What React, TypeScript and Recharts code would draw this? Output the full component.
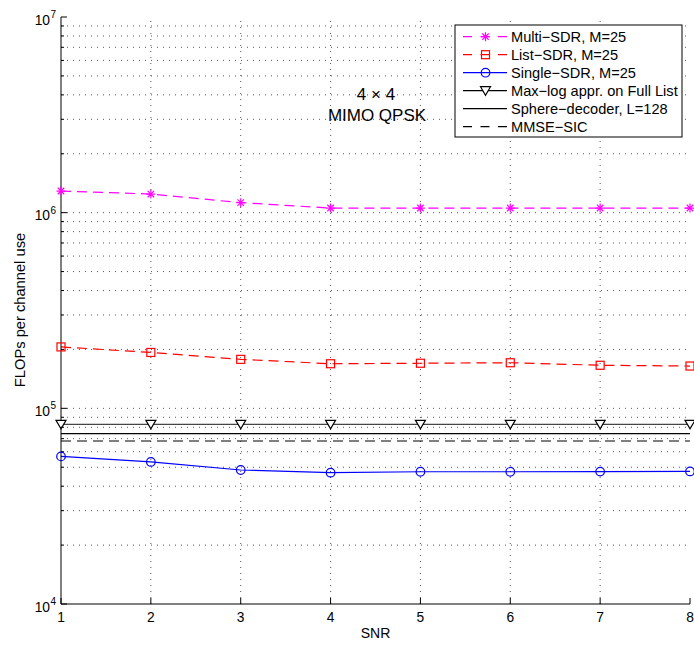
import React from 'react';
import { LineChart, Line, XAxis, YAxis, ReferenceLine } from 'recharts';

// ---- data ----
const snr = [1, 2, 3, 4, 5, 6, 7, 8];
const multiSDR = [1.29e6, 1.245e6, 1.125e6, 1.056e6, 1.056e6, 1.056e6, 1.056e6, 1.056e6];
const listSDR = [2.06e5, 1.93e5, 1.78e5, 1.69e5, 1.7e5, 1.71e5, 1.66e5, 1.645e5];
const singleSDR = [5.68e4, 5.32e4, 4.84e4, 4.69e4, 4.74e4, 4.74e4, 4.75e4, 4.76e4];
const maxLog = [8.28e4, 8.28e4, 8.28e4, 8.28e4, 8.28e4, 8.28e4, 8.28e4, 8.28e4];
const sphere = [7.43e4, 7.43e4, 7.43e4, 7.43e4, 7.43e4, 7.43e4, 7.43e4, 7.43e4];
const mmse = [6.81e4, 6.81e4, 6.81e4, 6.81e4, 6.81e4, 6.81e4, 6.81e4, 6.81e4];

const xTicks = [1, 2, 3, 4, 5, 6, 7, 8];
const yMajorTicks = [1e4, 1e5, 1e6, 1e7];
const yMinorMultipliers = [2, 3, 4, 5, 6, 7, 8, 9];
const yAllTicks: number[] = [];
yMajorTicks.forEach((m, i) => {
  yAllTicks.push(m);
  if (i < yMajorTicks.length - 1) yMinorMultipliers.forEach((k) => yAllTicks.push(m * k));
});
const yGrid = yAllTicks.filter((v) => v > 1e4 && v < 1e7);
const xGrid = xTicks.filter((v) => v > 1 && v < 8);

const legendItems = [
  { label: 'Multi\u2212SDR, M=25', color: '#ff00ff', dash: true, marker: 'star' },
  { label: 'List\u2212SDR, M=25', color: '#ff0000', dash: true, marker: 'square' },
  { label: 'Single\u2212SDR, M=25', color: '#0000ff', dash: false, marker: 'circle' },
  { label: 'Max\u2212log appr. on Full List', color: '#000000', dash: false, marker: 'tri' },
  { label: 'Sphere\u2212decoder, L=128', color: '#000000', dash: false, marker: 'none' },
  { label: 'MMSE\u2212SIC', color: '#000000', dash: true, marker: 'none' },
];

const data = snr.map((s, i) => ({
  snr: s,
  multi: multiSDR[i],
  list: listSDR[i],
  single: singleSDR[i],
  maxlog: maxLog[i],
  sphere: sphere[i],
  mmse: mmse[i],
}));

const FONT = '"Liberation Sans", Arial, Helvetica, sans-serif';
const GRID_STROKE = '#555';
const GRID_DASH = '1 5';
const DASH = '10 6';

function Marker({ type, cx, cy, color }: { type: string; cx: number; cy: number; color: string }) {
  if (type === 'star') {
    const r = 4.5;
    const d = r * 0.72;
    return (
      <g stroke={color} strokeWidth={1.2}>
        <line x1={cx - r} y1={cy} x2={cx + r} y2={cy} />
        <line x1={cx} y1={cy - r} x2={cx} y2={cy + r} />
        <line x1={cx - d} y1={cy - d} x2={cx + d} y2={cy + d} />
        <line x1={cx - d} y1={cy + d} x2={cx + d} y2={cy - d} />
      </g>
    );
  }
  if (type === 'square') {
    return <rect x={cx - 4} y={cy - 4} width={8} height={8} fill="none" stroke={color} strokeWidth={1.2} />;
  }
  if (type === 'circle') {
    return <circle cx={cx} cy={cy} r={4.3} fill="none" stroke={color} strokeWidth={1.2} />;
  }
  if (type === 'tri') {
    return (
      <path
        d={`M${cx - 5},${cy - 4} L${cx + 5},${cy - 4} L${cx},${cy + 4.5} Z`}
        fill="#fff"
        stroke={color}
        strokeWidth={1.2}
      />
    );
  }
  return null;
}

const makeDot = (type: string, color: string) => (props: any) => {
  const { cx, cy, index } = props;
  if (cx == null || cy == null) return <g key={index} />;
  return (
    <g key={index}>
      <Marker type={type} cx={cx} cy={cy} color={color} />
    </g>
  );
};

const TICK_MARGIN = 10;

const LeftTick = (props: any) => {
  const { x, y, payload } = props;
  const v = payload.value as number;
  const edge = x + TICK_MARGIN;
  const lg = Math.log10(v);
  const exp = Math.round(lg);
  const major = Math.abs(lg - exp) < 1e-9;
  return (
    <g>
      <line x1={edge} x2={edge + (major ? 6 : 3)} y1={y} y2={y} stroke="#000" strokeWidth={1} />
      {major && (
        <text x={edge - 11} y={y + 7.5} textAnchor="end" fontSize={13.8} fontFamily={FONT} fill="#000">
          10
        </text>
      )}
      {major && (
        <text x={edge - 10.5} y={y + 1} textAnchor="start" fontSize={10} fontFamily={FONT} fill="#000">
          {exp}
        </text>
      )}
    </g>
  );
};

const RightTick = (props: any) => {
  const { x, y, payload } = props;
  const v = payload.value as number;
  const lg = Math.log10(v);
  const major = Math.abs(lg - Math.round(lg)) < 1e-9;
  return <line x1={x} x2={x - (major ? 6 : 3)} y1={y} y2={y} stroke="#000" strokeWidth={1} />;
};

const BottomTick = (props: any) => {
  const { x, y, payload } = props;
  return (
    <g>
      <line x1={x} x2={x} y1={y} y2={y - 6} stroke="#000" strokeWidth={1} />
      <text x={x} y={y + 18} textAnchor="middle" fontSize={13.8} fontFamily={FONT} fill="#000">
        {payload.value}
      </text>
    </g>
  );
};

const TopTick = (props: any) => {
  const { x, y } = props;
  return <line x1={x} x2={x} y1={y} y2={y + 6} stroke="#000" strokeWidth={1} />;
};

function LegendBox() {
  const left = 455;
  const top = 25;
  const rowY0 = 36.7;
  const rowGap = 18;
  return (
    <svg width={694} height={646} style={{ position: 'absolute', left: 0, top: 0, pointerEvents: 'none' }}>
      <rect x={left} y={top} width={227} height={112} fill="#fff" stroke="#000" strokeWidth={1} />
      {legendItems.map((it, i) => {
        const y = rowY0 + i * rowGap;
        return (
          <g key={it.label}>
            <line
              x1={463}
              x2={507}
              y1={y}
              y2={y}
              stroke={it.color}
              strokeWidth={1.2}
              strokeDasharray={it.dash ? '9 8.5' : undefined}
            />
            <Marker type={it.marker} cx={485.5} cy={y} color={it.color} />
            <text x={511} y={y + 5.2} fontSize={14.6} fontFamily={FONT} fill="#000">
              {it.label}
            </text>
          </g>
        );
      })}
      <text x={376} y={100} textAnchor="middle" fontSize={17} fontFamily={FONT} fill="#000">
        4 {'\u00d7'} 4
      </text>
      <text x={377} y={121} textAnchor="middle" fontSize={17} fontFamily={FONT} fill="#000">
        MIMO QPSK
      </text>
      <text x={375.5} y={638} textAnchor="middle" fontSize={14} fontFamily={FONT} fill="#000">
        SNR
      </text>
      <text
        x={0}
        y={0}
        transform="translate(25,310) rotate(-90)"
        textAnchor="middle"
        fontSize={14.7}
        fontFamily={FONT}
        fill="#000"
      >
        FLOPs per channel use
      </text>
    </svg>
  );
}

export default function App() {
  return (
    <div style={{ position: 'absolute', left: 0, top: 0, width: 694, height: 646, background: '#fff' }}>
      <LineChart width={694} height={646} data={data} margin={{ top: 17, right: 4, bottom: 0, left: 0 }}>
        <XAxis
          dataKey="snr"
          type="number"
          domain={[1, 8]}
          ticks={xTicks}
          interval={0}
          height={42}
          tickSize={0}
          tickMargin={0}
          tickLine={false}
          axisLine={{ stroke: '#000', strokeWidth: 1 }}
          tick={BottomTick}
        />
        <XAxis
          xAxisId="top"
          orientation="top"
          dataKey="snr"
          type="number"
          domain={[1, 8]}
          ticks={xTicks}
          interval={0}
          height={0}
          tickSize={0}
          tickMargin={0}
          tickLine={false}
          axisLine={{ stroke: '#000', strokeWidth: 1 }}
          tick={TopTick}
        />
        <YAxis
          type="number"
          scale="log"
          domain={[1e4, 1e7]}
          ticks={yAllTicks}
          interval={0}
          allowDataOverflow
          width={61}
          tickSize={0}
          tickMargin={TICK_MARGIN}
          tickLine={false}
          axisLine={{ stroke: '#000', strokeWidth: 1 }}
          tick={LeftTick}
        />
        <YAxis
          yAxisId="right"
          orientation="right"
          type="number"
          scale="log"
          domain={[1e4, 1e7]}
          ticks={yAllTicks}
          interval={0}
          allowDataOverflow
          width={0}
          tickSize={0}
          tickMargin={0}
          tickLine={false}
          axisLine={{ stroke: '#000', strokeWidth: 1 }}
          tick={RightTick}
        />
        {yGrid.map((v) => (
          <ReferenceLine key={'h' + v} y={v} stroke={GRID_STROKE} strokeDasharray={GRID_DASH} strokeWidth={1} />
        ))}
        {xGrid.map((v) => (
          <ReferenceLine key={'v' + v} x={v} stroke={GRID_STROKE} strokeDasharray={GRID_DASH} strokeWidth={1} />
        ))}
        <Line
          dataKey="mmse"
          stroke="#000"
          strokeWidth={1.2}
          strokeDasharray={DASH}
          dot={false}
          isAnimationActive={false}
        />
        <Line dataKey="sphere" stroke="#000" strokeWidth={1.2} dot={false} isAnimationActive={false} />
        <Line
          dataKey="maxlog"
          stroke="#444"
          strokeWidth={1.2}
          dot={makeDot('tri', '#000')}
          isAnimationActive={false}
        />
        <Line
          dataKey="single"
          stroke="#0000ff"
          strokeWidth={1.2}
          dot={makeDot('circle', '#0000ff')}
          isAnimationActive={false}
        />
        <Line
          dataKey="list"
          stroke="#ff0000"
          strokeWidth={1.2}
          strokeDasharray={DASH}
          dot={makeDot('square', '#ff0000')}
          isAnimationActive={false}
        />
        <Line
          dataKey="multi"
          stroke="#ff00ff"
          strokeWidth={1.2}
          strokeDasharray={DASH}
          dot={makeDot('star', '#ff00ff')}
          isAnimationActive={false}
        />
      </LineChart>
      <LegendBox />
    </div>
  );
}
